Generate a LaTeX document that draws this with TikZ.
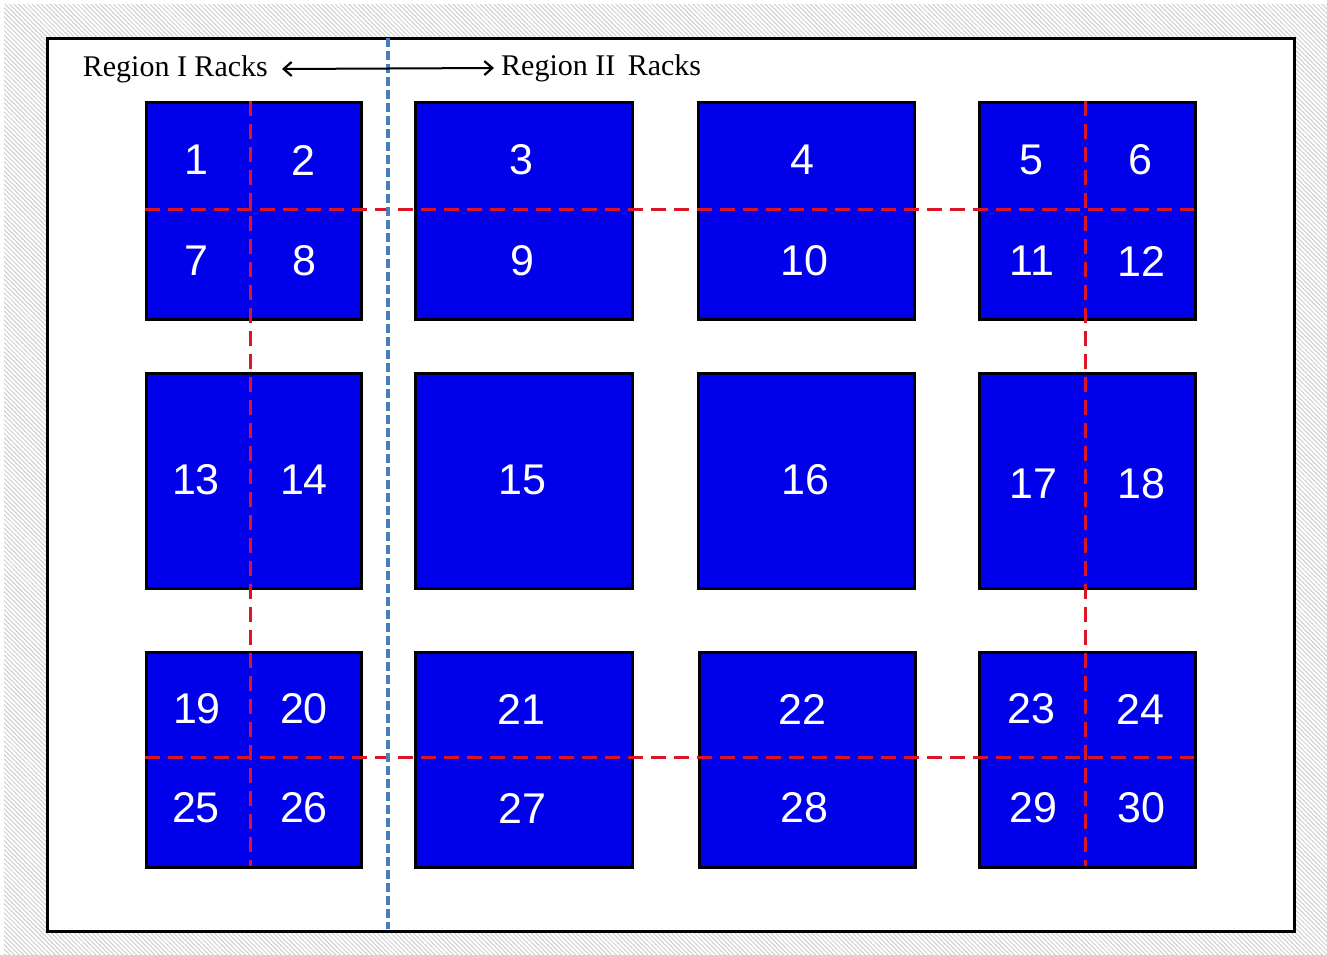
\documentclass[tikz,border=0pt]{standalone}
\usepackage{fontspec}
\setmainfont{Liberation Serif}
\newfontfamily\numfont{Liberation Sans}
\usetikzlibrary{patterns.meta,arrows.meta}
\definecolor{rackblue}{RGB}{0,0,235}
\definecolor{divblue}{RGB}{74,126,187}
\definecolor{divred}{RGB}{220,20,40}
\tikzset{
  rack/.style={draw=black, line width=3.4pt, fill=rackblue},
  num/.style={text=white, font=\numfont\fontsize{43}{43}\selectfont, inner sep=0pt},
  divline/.style={draw=divred, line width=3pt, dash pattern=on 15pt off 8pt},
  regionline/.style={draw=divblue, line width=3.4pt, dash pattern=on 9pt off 4pt},
  lbl/.style={font=\fontsize{30}{30}\selectfont, inner sep=0pt, text=black}
}
\begin{document}
\begin{tikzpicture}[x=1pt,y=-1pt]
\useasboundingbox (0,0) rectangle (1327,954);
% hatched backdrop
\fill[white] (0,0) rectangle (1327,954);
\path[pattern={Lines[angle=-45,distance=3.2pt,line width=1pt]}, pattern color=gray!38] (4,4) rectangle (1327,954);
% page
\node[draw=black, line width=2.8pt, fill=white, minimum width=1247pt, minimum height=893pt, inner sep=0pt, anchor=north west] (page) at (46,37) {};
% racks
\foreach \n/\xa/\ya/\xb/\yb in {
  r1/145/101/360/318, r2/414/101/631/318, r3/697/101/913/318, r4/978/101/1194/318,
  r5/145/372/360/587, r6/414/372/631/587, r7/697/372/913/587, r8/978/372/1194/587,
  r9/145/651/360/866, r10/414/651/631/866, r11/698/651/914/866, r12/978/651/1194/866}{
  \node[rack, minimum width={\xb-\xa}, minimum height={\yb-\ya}, anchor=north west, inner sep=0pt] (\n) at (\xa,\ya) {};
}
% red dashed division lines
\coordinate (h1a) at (145,209); \coordinate (h1b) at (1194,209);
\coordinate (h2a) at (145,757); \coordinate (h2b) at (1194,757);
\coordinate (v1a) at (250,101); \coordinate (v1b) at (250,866);
\coordinate (v2a) at (1085,101); \coordinate (v2b) at (1085,866);
\draw[divline] (h1a) -- (h1b);
\draw[divline] (h2a) -- (h2b);
\draw[divline] (v1a) -- (v1b);
\draw[divline] (v2a) -- (v2b);
% region divider
\coordinate (dtop) at (388,38); \coordinate (dbot) at (388,929);
\draw[regionline] (dtop) -- (dbot);
% labels
\node[lbl, anchor=east] (reg1) at (268,69) {Region I Racks};
\node[lbl, anchor=west] (reg2) at (501,68) {Region II\, Racks};
\draw[{Straight Barb[length=8pt,width=14pt,line width=2.2pt]}-{Straight Barb[length=8pt,width=14pt,line width=2.2pt]}, line width=2pt] ([xshift=14pt]reg1.east) -- ([xshift=-7pt]reg2.west);
% numbers
\foreach \t/\x/\y in {
  1/196/160, 2/303/160, 7/196/261, 8/304/261,
  3/521/160, 9/522/261, 4/802/160, 10/804/261,
  5/1031/160, 6/1140/160, 11/1032/261, 12/1141/261,
  13/196/480, 14/304/480, 15/522/480, 16/805/480, 17/1033/484, 18/1141/484,
  19/197/709, 20/304/709, 25/196/808, 26/304/808,
  21/521/709, 27/522/808, 22/802/709, 28/804/808,
  23/1031/709, 24/1140/709, 29/1033/808, 30/1141/808}{
  \node[num] (n\t) at (\x,\y) {\t};
}
\end{tikzpicture}
\end{document}
